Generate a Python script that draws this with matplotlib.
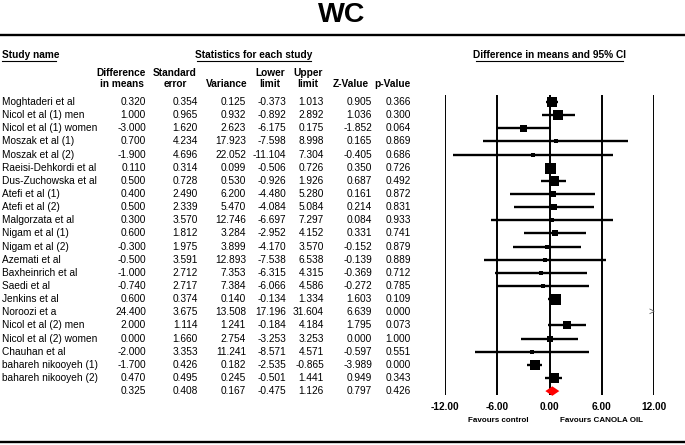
import matplotlib
matplotlib.use("Agg")
import matplotlib.pyplot as plt
from matplotlib.lines import Line2D

plt.rcParams['font.family'] = ['Liberation Sans', 'DejaVu Sans']

studies = ["Moghtaderi et al", "Nicol et al (1) men", "Nicol et al (1) women", "Moszak et al (1)",
           "Moszak et al (2)", "Raeisi-Dehkordi et al", "Dus-Zuchowska et al", "Atefi et al (1)",
           "Atefi et al (2)", "Malgorzata et al", "Nigam et al (1)", "Nigam et al (2)",
           "Azemati et al", "Baxheinrich et al", "Saedi et al", "Jenkins et al", "Noroozi et a",
           "Nicol et al (2) men", "Nicol et al (2) women", "Chauhan et al",
           "bahareh nikooyeh (1)", "bahareh nikooyeh (2)"]
diff = [0.320, 1.000, -3.000, 0.700, -1.900, 0.110, 0.500, 0.400, 0.500, 0.300, 0.600, -0.300,
        -0.500, -1.000, -0.740, 0.600, 24.400, 2.000, 0.000, -2.000, -1.700, 0.470]
se = [0.354, 0.965, 1.620, 4.234, 4.696, 0.314, 0.728, 2.490, 2.339, 3.570, 1.812, 1.975,
      3.591, 2.712, 2.717, 0.374, 3.675, 1.114, 1.660, 3.353, 0.426, 0.495]
var = [0.125, 0.932, 2.623, 17.923, 22.052, 0.099, 0.530, 6.200, 5.470, 12.746, 3.284, 3.899,
       12.893, 7.353, 7.384, 0.140, 13.508, 1.241, 2.754, 11.241, 0.182, 0.245]
lower = [-0.373, -0.892, -6.175, -7.598, -11.104, -0.506, -0.926, -4.480, -4.084, -6.697, -2.952,
         -4.170, -7.538, -6.315, -6.066, -0.134, 17.196, -0.184, -3.253, -8.571, -2.535, -0.501]
upper = [1.013, 2.892, 0.175, 8.998, 7.304, 0.726, 1.926, 5.280, 5.084, 7.297, 4.152, 3.570,
         6.538, 4.315, 4.586, 1.334, 31.604, 4.184, 3.253, 4.571, -0.865, 1.441]
zval = [0.905, 1.036, -1.852, 0.165, -0.405, 0.350, 0.687, 0.161, 0.214, 0.084, 0.331, -0.152,
        -0.139, -0.369, -0.272, 1.603, 6.639, 1.795, 0.000, -0.597, -3.989, 0.949]
pval = [0.366, 0.300, 0.064, 0.869, 0.686, 0.726, 0.492, 0.872, 0.831, 0.933, 0.741, 0.879,
        0.889, 0.712, 0.785, 0.109, 0.000, 0.073, 1.000, 0.551, 0.000, 0.343]
overall = dict(diff=0.325, se=0.408, var=0.167, lower=-0.475, upper=1.126, z=0.797, p=0.426)
xticks = [-12, -6, 0, 6, 12]
title = "WC"

# visual box sizes (pixels)
box_px = [10.5, 9.5, 7, 4, 3.5, 11, 9.5, 6, 5.5, 4, 6, 5, 4, 5, 5, 11, 0, 8.5, 6.5, 4, 10.5, 10.5]

W, H = 685, 445
fig = plt.figure(figsize=(W / 100, H / 100), dpi=100)

def ft(x, y, s, **kw):
    fig.text(x / W, 1 - y / H, s, **kw)

def hline(x0, x1, y, lw):
    fig.add_artist(Line2D([x0 / W, x1 / W], [1 - y / H, 1 - y / H], color='black', lw=lw,
                          transform=fig.transFigure))

FS = 7.3
ft(342, 15, title, ha='center', va='center', fontsize=20.5, fontweight='bold')
hline(0, W, 35, 1.7)
hline(0, W, 442, 1.7)

ft(2, 55, "Study name", ha='left', va='center', fontsize=FS, fontweight='bold')
hline(2, 56, 61, 0.8)
ft(254, 55, "Statistics for each study", ha='center', va='center', fontsize=FS, fontweight='bold')
hline(197, 311, 61, 0.8)
ft(549.5, 55, "Difference in means and 95% CI", ha='center', va='center', fontsize=FS, fontweight='bold')
hline(476, 623, 61, 0.8)

cols_right = [146, 198, 246, 286, 324, 372, 411]
head_c = [121.5, 175, 226.5, 270, 308, 350.5, 392.5]
head1 = ["Difference", "Standard", "", "Lower", "Upper", "", ""]
head2 = ["in means", "error", "Variance", "limit", "limit", "Z-Value", "p-Value"]
for c, a, b in zip(head_c, head1, head2):
    if a:
        ft(c, 73, a, ha='center', va='center', fontsize=FS, fontweight='bold')
    ft(c, 84, b, ha='center', va='center', fontsize=FS, fontweight='bold')

y0, dy = 102, 13.14
for i, name in enumerate(studies):
    y = y0 + dy * i
    ft(2, y, name, ha='left', va='center', fontsize=FS)
    vals = [diff[i], se[i], var[i], lower[i], upper[i], zval[i], pval[i]]
    for xr, v in zip(cols_right, vals):
        ft(xr, y, f"{v:.3f}", ha='right', va='center', fontsize=FS)
yo = y0 + dy * len(studies)
ov = [overall['diff'], overall['se'], overall['var'], overall['lower'], overall['upper'],
      overall['z'], overall['p']]
for xr, v in zip(cols_right, ov):
    ft(xr, yo, f"{v:.3f}", ha='right', va='center', fontsize=FS)

# forest axes: x pixels 445..654, y pixels 95..395
ax_l, ax_r, ax_t, ax_b = 445, 654, 95, 395
ax = fig.add_axes([ax_l / W, 1 - ax_b / H, (ax_r - ax_l) / W, (ax_b - ax_t) / H])
ax.set_xlim(xticks[0], xticks[-1])
top_r = (ax_t - y0) / dy
bot_r = (ax_b - y0) / dy
ax.set_ylim(bot_r, top_r)
for s in ax.spines.values():
    s.set_visible(False)
ax.set_yticks([])
ax.set_xticks(xticks)
ax.set_xticklabels([f"{t:.2f}" for t in xticks], fontsize=FS, fontweight='bold')
ax.tick_params(axis='x', length=0, pad=5)
for t in xticks:
    ax.axvline(t, color='black', lw=1.4, zorder=1)

xmin, xmax = xticks[0], xticks[-1]
for i in range(len(studies)):
    if lower[i] > xmax or upper[i] < xmin:
        ax.text(xmax, i, ">", ha='right', va='center', fontsize=7, color='#555555', clip_on=False)
        continue
    ax.plot([lower[i], upper[i]], [i, i], color='black', lw=1.7, solid_capstyle='butt', zorder=2)
    ax.plot([diff[i]], [i], marker='s', color='black', ms=box_px[i] * 0.72, mew=0, zorder=3)

io = len(studies)
h = 0.36
ax.fill([overall['lower'], overall['diff'], overall['upper'], overall['diff']],
        [io, io - h, io, io + h], color='#ff0000', lw=0, zorder=3, clip_on=False)

ft(498, 420, "Favours control", ha='center', va='center', fontsize=5.8, fontweight='bold')
ft(602, 420, "Favours CANOLA OIL", ha='center', va='center', fontsize=5.8, fontweight='bold')

fig.savefig("out.png", dpi=100)
